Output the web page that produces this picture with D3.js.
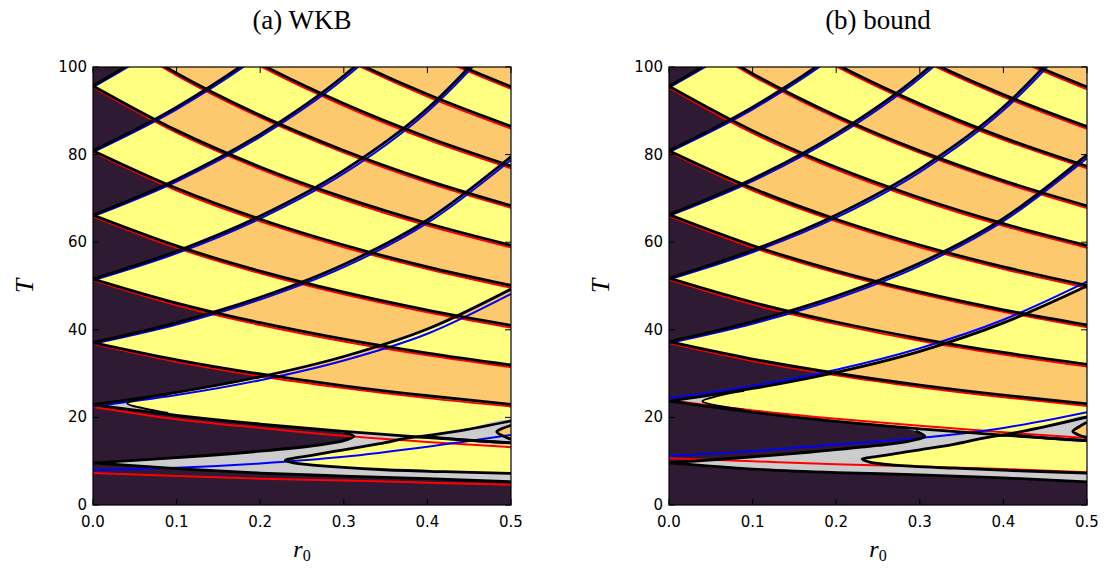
<!DOCTYPE html>
<html><head><meta charset="utf-8">
<script src="https://cdn.jsdelivr.net/npm/d3@7"></script>
<style>body{margin:0;background:#fff;}</style>
</head><body>
<svg id="chart" width="1111" height="575"></svg>
<script>
// ---------- shared axes ----------
const rGrid = [0, 0.1, 0.2, 0.3, 0.4, 0.5];
const xTicks = [0, 0.1, 0.2, 0.3, 0.4, 0.5];
const yTicks = [0, 20, 40, 60, 80, 100];
const panelTitles = ["(a) WKB", "(b) bound"];

// ---------- (a) WKB : T values on rGrid ----------
const wkbDescBlack = [
  [22.9, 20.47, 18.47, 16.80, 15.39, 14.19],
  [37.1, 33.16, 29.92, 27.22, 24.94, 22.99],
  [51.6, 46.11, 41.62, 37.86, 34.68, 31.98],
  [66.2, 59.16, 53.39, 48.58, 44.49, 41.02],
  [80.9, 72.30, 65.25, 59.36, 54.37, 50.13],
  [95.7, 85.53, 77.18, 70.22, 64.32, 59.31],
  [110.3, 98.57, 88.96, 80.94, 74.13, 68.35],
  [124.9, 111.62, 100.73, 91.65, 83.95, 77.40],
  [139.5, 124.67, 112.51, 102.37, 93.76, 86.45],
  [154.1, 137.72, 124.28, 113.08, 103.57, 95.50]
];
const wkbDescRed = [
  [22.4, 19.6, 17.6, 15.8, 14.4, 13.2],
  [36.8, 32.7, 29.4, 26.7, 24.4, 22.5],
  [51.3, 45.6, 41.1, 37.35, 34.2, 31.5],
  [65.9, 58.7, 52.9, 48.1, 44.0, 40.5],
  [80.6, 71.8, 64.75, 58.85, 53.9, 49.6],
  [95.4, 85.0, 76.7, 69.7, 63.8, 58.8],
  [110.0, 98.1, 88.5, 80.45, 73.6, 67.85],
  [124.6, 111.1, 100.2, 91.15, 83.45, 76.9],
  [139.2, 124.2, 112.0, 101.9, 93.25, 85.95],
  [153.8, 137.2, 123.8, 112.6, 103.1, 95.0]
];
const wkbAscBlack = [
  [22.9, 25.71, 29.27, 33.90, 40.17, 49.3],
  [37.1, 41.66, 47.42, 54.92, 65.07, 79.52],
  [51.6, 57.94, 65.96, 76.39, 90.51, 110.6],
  [66.2, 74.34, 84.62, 98.00, 116.1, 141.9],
  [80.9, 90.84, 103.4, 119.8, 141.9, 173.4],
  [95.7, 107.5, 122.3, 141.7, 167.9, 205.1]
];
const wkbAscBlue = [
  [22.5, 25.1, 28.5, 33.0, 39.1, 48.2],
  [36.8, 41.2, 46.9, 54.3, 64.4, 78.8],
  [51.3, 57.45, 65.4, 75.7, 89.8, 109.7],
  [65.9, 73.85, 84.05, 97.3, 115.3, 141.0],
  [80.6, 90.35, 102.8, 119.1, 141.1, 172.5],
  [95.4, 107.0, 121.7, 141.0, 167.1, 204.2]
];
const wkbBottomBlack = [9.6, 8.3, 7.3, 6.6, 6.0, 5.3];
const wkbBottomRed = [7.3, 6.6, 6.0, 5.6, 5.1, 4.6];
const wkbBottomBlue = [8.0, 8.5, 9.5, 11.0, 13.3, 16.0];
// tongues: [r0, T] outlines
const wkbDarkTongue = [[0,22.9],[0.1,20.47],[0.2,18.47],[0.27,17.2],[0.3,16.5],[0.312,15.7],[0.3,14.7],[0.27,13.7],[0.2,12.3],[0.1,10.8],[0,9.6]];
const wkbYellowTongue = [[0.5,14.19],[0.45,14.75],[0.388,15.55],[0.343,14.0],[0.3,12.6],[0.26,11.3],[0.237,10.6],[0.23,10.2],[0.24,9.6],[0.27,9.0],[0.343,8.1],[0.42,7.6],[0.5,7.2]];
const wkbGrayWedge = [[0.388,15.55],[0.44,17.0],[0.5,19.2],[0.5,14.19],[0.44,14.85]];
const wkbOrangeTongue = [[0.5,18.2],[0.49,17.5],[0.483,16.7],[0.49,15.8],[0.5,15.0]];
const wkbSliverGray = [[0,22.9],[0.09,25.4],[0.09,20.7]];
const wkbSliverTongue = [[0.09,25.2],[0.06,24.3],[0.041,23.2],[0.06,22.1],[0.09,21.0]];

// ---------- (b) bound ----------
const bndDescBlack = [
  [23.7, 21.18, 19.11, 17.39, 15.93, 14.69],
  [37.3, 33.33, 30.08, 27.37, 25.07, 23.11],
  [51.8, 46.29, 41.78, 38.01, 34.82, 32.10],
  [66.3, 59.25, 53.47, 48.65, 44.56, 41.09],
  [80.9, 72.30, 65.25, 59.36, 54.37, 50.13],
  [95.6, 85.44, 77.10, 70.15, 64.25, 59.24],
  [110.2, 98.48, 88.88, 80.86, 74.07, 68.29],
  [124.8, 111.53, 100.65, 91.58, 83.88, 77.34],
  [139.4, 124.58, 112.43, 102.29, 93.69, 86.39],
  [154.0, 137.63, 124.20, 113.01, 103.50, 95.43]
];
const bndDescRed = [
  [23.9, 21.6, 19.7, 18.1, 16.6, 15.3],
  [37.0, 32.9, 29.6, 26.9, 24.6, 22.6],
  [51.5, 45.8, 41.3, 37.5, 34.35, 31.6],
  [66.0, 58.8, 53.0, 48.2, 44.1, 40.6],
  [80.6, 71.8, 64.75, 58.85, 53.9, 49.6],
  [95.3, 84.9, 76.6, 69.65, 63.75, 58.75],
  [109.9, 98.0, 88.4, 80.4, 73.6, 67.8],
  [124.5, 111.0, 100.15, 91.1, 83.4, 76.85],
  [139.1, 124.1, 111.9, 101.8, 93.2, 85.9],
  [153.7, 137.1, 123.7, 112.5, 103.0, 94.9]
];
const bndAscBlack = [
  [23.7, 26.61, 30.29, 35.09, 41.57, 50.0],
  [37.3, 41.88, 47.68, 55.22, 65.42, 79.95],
  [51.8, 58.17, 66.21, 76.69, 90.86, 111.0],
  [66.3, 74.45, 84.74, 98.15, 116.3, 142.1],
  [80.9, 90.84, 103.4, 119.8, 141.9, 173.4],
  [95.6, 107.3, 122.2, 141.5, 167.7, 204.9]
];
const bndAscBlue = [
  [24.4, 27.2, 30.9, 35.8, 42.3, 51.0],
  [37.0, 41.4, 47.1, 54.6, 64.8, 79.2],
  [51.5, 57.7, 65.6, 76.0, 90.1, 110.1],
  [66.0, 73.95, 84.15, 97.45, 115.5, 141.2],
  [80.6, 90.35, 102.8, 119.1, 141.1, 172.5],
  [95.3, 106.8, 121.6, 140.8, 166.9, 204.0]
];
const bndBottomBlack = [9.6, 8.2, 7.4, 6.9, 6.2, 5.3];
const bndBottomRed = [10.7, 10.0, 9.3, 8.8, 8.2, 7.5];
const bndBottomBlue = [11.2, 12.3, 13.8, 15.3, 17.6, 21.2];
const bndDarkTongue = [[0,23.7],[0.1,21.18],[0.2,19.11],[0.27,17.8],[0.295,16.9],[0.306,15.7],[0.29,14.7],[0.25,13.6],[0.17,12.1],[0.1,11.0],[0,9.6]];
const bndYellowTongue = [[0.5,14.69],[0.45,15.3],[0.398,15.9],[0.342,13.9],[0.3,12.6],[0.26,11.4],[0.238,10.8],[0.231,10.5],[0.24,9.8],[0.27,9.1],[0.342,8.4],[0.42,7.8],[0.5,7.3]];
const bndGrayWedge = [[0.398,15.9],[0.45,17.9],[0.5,20.1],[0.5,14.69],[0.45,15.3]];
const bndOrangeTongue = [[0.5,18.9],[0.49,17.8],[0.483,16.8],[0.49,16.0],[0.5,15.4]];
const bndSliverGray = [[0,23.7],[0.09,26.3],[0.09,21.4]];
const bndSliverTongue = [[0.09,26.1],[0.06,25.0],[0.04,23.7],[0.06,22.6],[0.09,21.7]];

// ---------- drawing ----------
const COLORS = {dark: "#2e1a32", yellow: "#ffff80", orange: "#fdc96e", gray: "#cccccc"};
const SERIF = "Liberation Serif, DejaVu Serif, serif";
const svg = d3.select("#chart");
const defs = svg.append("defs");

const panels = [
  {x0: 93, desc: wkbDescBlack, descRed: wkbDescRed, asc: wkbAscBlack, ascBlue: wkbAscBlue,
   bottom: wkbBottomBlack, bottomRed: wkbBottomRed, bottomBlue: wkbBottomBlue,
   darkTongue: wkbDarkTongue, yellowTongue: wkbYellowTongue, grayWedge: wkbGrayWedge,
   orangeTongue: wkbOrangeTongue, sliverGray: wkbSliverGray, sliverTongue: wkbSliverTongue},
  {x0: 669, desc: bndDescBlack, descRed: bndDescRed, asc: bndAscBlack, ascBlue: bndAscBlue,
   bottom: bndBottomBlack, bottomRed: bndBottomRed, bottomBlue: bndBottomBlue,
   darkTongue: bndDarkTongue, yellowTongue: bndYellowTongue, grayWedge: bndGrayWedge,
   orangeTongue: bndOrangeTongue, sliverGray: bndSliverGray, sliverTongue: bndSliverTongue}
];

panels.forEach((p, idx) => {
  const x = d3.scaleLinear().domain([0, 0.5]).range([p.x0, p.x0 + 418]);
  const y = d3.scaleLinear().domain([0, 100]).range([505, 67]);
  const pts = arr => rGrid.map((r, i) => [r, arr[i]]);
  const lineM = d3.line().x(d => x(d[0])).y(d => y(d[1])).curve(d3.curveMonotoneX);
  const lineC = d3.line().x(d => x(d[0])).y(d => y(d[1])).curve(d3.curveCatmullRom.alpha(0.5));
  const lineL = d3.line().x(d => x(d[0])).y(d => y(d[1]));
  const above = arr => lineM(pts(arr)) + `L${x(0.5)},-3000L${x(0)},-3000Z`;
  const below = arr => lineM(pts(arr)) + `L${x(0.5)},3000L${x(0)},3000Z`;

  defs.append("clipPath").attr("id", "plot" + idx)
    .append("rect").attr("x", x(0)).attr("y", y(100)).attr("width", x(0.5) - x(0)).attr("height", y(0) - y(100));

  const g = svg.append("g").attr("clip-path", `url(#plot${idx})`);
  g.append("rect").attr("x", x(0)).attr("y", y(100)).attr("width", x(0.5) - x(0)).attr("height", y(0) - y(100))
    .attr("fill", COLORS.orange);
  g.append("path").attr("d", p.desc.map(above).join("") + p.asc.map(above).join(""))
    .attr("fill", COLORS.yellow).attr("fill-rule", "evenodd");
  const descSorted = p.desc.slice().sort((a, b) => a[0] - b[0]);
  p.asc.forEach((a, j) => {
    const next = descSorted.find(d => d[0] > a[0] + 1);
    if (!next) return;
    const cid = `cw${idx}_${j}`;
    defs.append("clipPath").attr("id", cid).append("path").attr("d", below(next));
    g.append("path").attr("d", above(a)).attr("fill", COLORS.dark).attr("clip-path", `url(#${cid})`);
  });
  g.append("path").attr("d", below(descSorted[0])).attr("fill", COLORS.dark);

  const lowD = descSorted[0];
  const area = d3.area().x(d => x(d.r)).y0(d => y(d.lo)).y1(d => y(d.hi)).curve(d3.curveMonotoneX);
  g.append("path").attr("d", area(rGrid.map((r, i) => ({r, lo: p.bottom[i], hi: lowD[i]}))))
    .attr("fill", COLORS.gray);
  g.append("path").attr("d", lineC(p.darkTongue) + "Z").attr("fill", COLORS.dark);
  g.append("path").attr("d", lineC(p.yellowTongue) + "Z").attr("fill", COLORS.yellow);
  g.append("path").attr("d", lineC(p.grayWedge) + "Z").attr("fill", COLORS.gray);
  g.append("path").attr("d", lineC(p.orangeTongue) + "Z").attr("fill", COLORS.orange);
  g.append("path").attr("d", lineL(p.sliverGray) + "Z").attr("fill", COLORS.gray);
  g.append("path").attr("d", lineC(p.sliverTongue) + "Z").attr("fill", COLORS.yellow);

  const colored = g.append("g").attr("fill", "none").attr("stroke-width", 2);
  p.descRed.concat([p.bottomRed]).forEach(c => colored.append("path").attr("d", lineM(pts(c))).attr("stroke", "#ff0000"));
  p.ascBlue.concat([p.bottomBlue]).forEach(c => colored.append("path").attr("d", lineM(pts(c))).attr("stroke", "#0000ff"));

  const blk = g.append("g").attr("fill", "none").attr("stroke", "#000").attr("stroke-width", 2.8);
  p.desc.concat(p.asc, [p.bottom]).forEach(c => blk.append("path").attr("d", lineM(pts(c))));
  blk.append("path").attr("d", lineC(p.darkTongue.slice(4)));
  blk.append("path").attr("d", lineC(p.yellowTongue));
  blk.append("path").attr("d", lineC(p.grayWedge.slice(0, 3)));
  blk.append("path").attr("d", lineC(p.orangeTongue));
  blk.append("path").attr("d", lineC(p.sliverTongue)).attr("stroke-width", 2);

  svg.append("rect").attr("x", x(0)).attr("y", y(100)).attr("width", x(0.5) - x(0)).attr("height", y(0) - y(100))
    .attr("fill", "none").attr("stroke", "#000").attr("stroke-width", 1.2);
  const ax = svg.append("g").attr("stroke", "#000").attr("stroke-width", 1);
  xTicks.forEach(t => {
    ax.append("line").attr("x1", x(t)).attr("x2", x(t)).attr("y1", y(0)).attr("y2", y(0) - 6);
    ax.append("line").attr("x1", x(t)).attr("x2", x(t)).attr("y1", y(100)).attr("y2", y(100) + 6);
  });
  yTicks.forEach(t => {
    ax.append("line").attr("x1", x(0)).attr("x2", x(0) + 6).attr("y1", y(t)).attr("y2", y(t));
    ax.append("line").attr("x1", x(0.5)).attr("x2", x(0.5) - 6).attr("y1", y(t)).attr("y2", y(t));
  });
  const lab = svg.append("g").attr("font-family", "DejaVu Sans, sans-serif").attr("font-size", 15).attr("fill", "#000");
  xTicks.forEach(t => lab.append("text").attr("x", x(t)).attr("y", y(0) + 22).attr("text-anchor", "middle").text(d3.format(".1f")(t)));
  yTicks.forEach(t => lab.append("text").attr("x", x(0) - 6).attr("y", y(t) + 5).attr("text-anchor", "end").text(t));

  const cx = (x(0) + x(0.5)) / 2;
  svg.append("text").attr("x", cx).attr("y", 29).attr("text-anchor", "middle")
    .attr("font-family", SERIF).attr("font-size", 27).text(panelTitles[idx]);
  const xl = svg.append("text").attr("x", cx).attr("y", 557).attr("text-anchor", "middle")
    .attr("font-family", SERIF).attr("font-size", 24);
  xl.append("tspan").attr("font-style", "italic").text("r");
  xl.append("tspan").attr("font-size", 16).attr("dy", 4).text("0");
  svg.append("text").attr("transform", `translate(${x(0) - 60},${(y(0) + y(100)) / 2}) rotate(-90)`)
    .attr("text-anchor", "middle").attr("font-family", SERIF)
    .attr("font-style", "italic").attr("font-size", 26).text("T");
});
</script>
</body></html>
